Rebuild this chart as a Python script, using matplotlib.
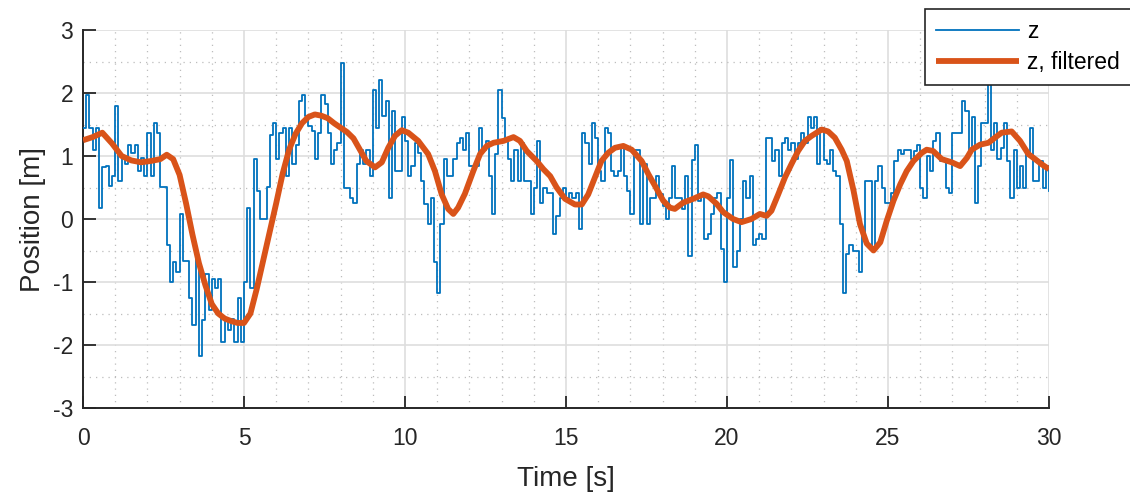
import numpy as np
import matplotlib
matplotlib.use("Agg")
import matplotlib.pyplot as plt
from matplotlib.ticker import MultipleLocator

# ---------------- data ----------------
dt = 0.1
z = [
    1.45, 1.97, 1.45, 1.1, 1.45, 0.18, 0.82, 0.84, 0.53, 0.68,
    1.79, 0.6, 1.0, 0.87, 1.18, 1.05, 1.18, 0.76, 0.97, 0.68,
    1.37, 0.68, 1.53, 1.37, 0.51, 0.51, -0.42, -1.0, -0.68, -0.84,
    0.08, -0.66, -0.66, -1.26, -1.68, -0.6, -2.18, -1.6, -0.87, -1.44,
    -0.95, -1.1, -0.95, -1.95, -1.58, -1.76, -1.58, -1.95, -1.26, -1.95,
    -1.0, 0.18, -1.1, 0.95, 0.45, 0.0, 0.0, 0.51, 1.34, 1.53,
    0.95, 1.37, 1.45, 0.68, 1.45, 0.87, 1.18, 1.87, 1.97, 1.63,
    1.47, 1.39, 0.95, 1.37, 1.97, 1.82, 1.37, 0.87, 1.1, 1.21,
    2.47, 0.5, 0.5, 0.34, 0.26, 0.87, 1.1, 0.87, 1.1, 0.68,
    2.04, 1.45, 2.21, 1.63, 1.87, 0.34, 1.71, 0.76, 0.76, 1.62,
    1.24, 0.68, 0.84, 1.21, 1.05, 0.6, 0.24, -0.08, 0.34, -0.68,
    -1.18, -0.08, 0.95, 0.68, 0.68, 0.95, 1.21, 1.28, 1.1, 1.37,
    0.84, 0.84, 0.84, 1.45, 1.1, 1.24, 0.68, 0.08, 1.03, 2.04,
    1.6, 1.24, 0.95, 0.6, 1.1, 0.6, 1.21, 0.6, 0.6, 0.08,
    0.5, 1.24, 0.26, 0.5, 0.42, 0.42, -0.24, 0.05, 0.34, 0.5,
    0.34, 0.42, 0.34, 0.42, -0.16, 1.37, 1.21, 0.87, 1.53, 1.29,
    0.76, 0.6, 1.45, 1.37, 0.76, 0.68, 0.76, 1.18, 0.68, 0.45,
    0.08, 1.1, 1.1, -0.08, 0.87, -0.08, 0.34, 0.34, 0.68, 0.39,
    0.2, 0.0, 0.34, 0.84, 0.34, 0.34, 0.16, 0.68, -0.58, 0.93,
    1.18, 0.29, 0.39, -0.32, -0.24, 0.08, 0.34, 0.42, -0.47, -1.0,
    0.34, 0.93, -0.76, -0.5, 0.0, 0.6, 0.34, 0.68, -0.42, -0.32,
    -0.24, -0.32, 1.28, 1.28, 0.92, 1.1, 0.68, 1.21, 1.28, 1.1,
    1.21, 0.95, 1.21, 1.37, 1.21, 1.62, 1.45, 1.62, 0.87, 1.45,
    0.93, 0.87, 1.1, 0.76, 0.68, -0.08, -1.18, -0.55, -0.42, -0.5,
    -0.5, -0.84, -0.24, 0.6, 0.6, -0.47, 0.6, 0.84, 0.5, 0.26,
    0.26, 0.42, 0.92, 1.1, 1.03, 1.1, 1.1, 0.95, 1.08, 1.18,
    0.5, 0.34, 1.0, 0.76, 1.24, 1.37, 0.92, 0.92, 0.5, 0.42,
    1.37, 1.37, 1.37, 1.87, 1.71, 1.1, 1.62, 0.26, 0.84, 1.53,
    1.53, 2.25, 1.1, 1.53, 0.95, 1.13, 1.53, 0.92, 0.34, 1.1,
    0.5, 0.84, 0.5, 1.03, 1.45, 0.6, 0.6, 0.92, 0.5, 0.84,
    0.45,
]
t = np.arange(len(z)) * dt

t_filt = [0.0, 0.3, 0.6, 0.9, 1.2, 1.5, 1.8, 2.1, 2.4, 2.6, 2.8, 3.0, 3.2, 3.4,
          3.6, 3.8, 4.0, 4.2, 4.4, 4.6, 4.8, 5.0, 5.2, 5.4, 5.6, 5.8, 6.0, 6.2,
          6.4, 6.6, 6.8, 7.0, 7.2, 7.4, 7.6, 7.8, 8.0, 8.2, 8.4, 8.6, 8.8, 9.07,
          9.28, 9.48, 9.69, 9.9, 10.1, 10.41, 10.72, 10.93, 11.14, 11.34, 11.5,
          11.65, 11.86, 12.12, 12.33, 12.54, 12.75, 13.06, 13.37, 13.57, 13.78,
          14.09, 14.3, 14.51, 14.71, 14.97, 15.28, 15.49, 15.69, 15.9, 16.1,
          16.31, 16.52, 16.78, 17.04, 17.35, 17.56, 17.76, 18.02, 18.23, 18.38,
          18.64, 18.95, 19.26, 19.42, 19.68, 19.88, 20.19, 20.45, 20.76, 21.02,
          21.23, 21.38, 21.59, 21.8, 22.0, 22.21, 22.42, 22.63, 22.94, 23.14,
          23.35, 23.56, 23.72, 23.93, 24.13, 24.34, 24.55, 24.76, 24.96, 25.17,
          25.38, 25.58, 25.79, 26.05, 26.2, 26.4, 26.67, 26.98, 27.24, 27.45,
          27.6, 27.86, 28.12, 28.32, 28.53, 28.84, 29.1, 29.36, 29.57, 29.77,
          30.0]
z_filt = [1.25, 1.3, 1.37, 1.2, 1.0, 0.93, 0.9, 0.92, 0.95, 1.02, 0.95, 0.7,
          0.25, -0.25, -0.7, -1.05, -1.35, -1.5, -1.58, -1.62, -1.65, -1.65,
          -1.5, -1.1, -0.65, -0.2, 0.25, 0.72, 1.1, 1.35, 1.52, 1.62, 1.66,
          1.64, 1.6, 1.52, 1.45, 1.38, 1.28, 1.1, 0.92, 0.82, 0.9, 1.13, 1.32,
          1.41, 1.37, 1.24, 1.03, 0.76, 0.39, 0.16, 0.08, 0.18, 0.4, 0.76,
          1.03, 1.16, 1.21, 1.24, 1.3, 1.24, 1.08, 0.92, 0.79, 0.68, 0.5, 0.32,
          0.23, 0.23, 0.39, 0.66, 0.92, 1.05, 1.13, 1.16, 1.1, 0.92, 0.71, 0.53,
          0.29, 0.18, 0.16, 0.26, 0.32, 0.39, 0.36, 0.24, 0.11, 0.0, -0.05,
          0.0, 0.08, 0.05, 0.13, 0.39, 0.66, 0.87, 1.08, 1.24, 1.32, 1.42,
          1.39, 1.29, 1.1, 0.92, 0.45, -0.08, -0.39, -0.5, -0.37, -0.03, 0.29,
          0.55, 0.76, 0.92, 1.05, 1.1, 1.08, 0.95, 0.9, 0.84, 0.97, 1.1, 1.18,
          1.21, 1.29, 1.37, 1.39, 1.24, 1.03, 0.95, 0.87, 0.79]

x_ticks = [0, 5, 10, 15, 20, 25, 30]
y_ticks = [-3, -2, -1, 0, 1, 2, 3]
labels = ["z", "z, filtered"]

# ---------------- style ----------------
plt.rcParams["font.family"] = ["Liberation Sans", "DejaVu Sans"]
plt.rcParams["axes.unicode_minus"] = False

BLUE = "#0072BD"
ORANGE = "#D95319"
DARK = "#262626"

fig = plt.figure(figsize=(11.30, 4.92), dpi=100)
ax = fig.add_axes([83 / 1130, 1 - 408 / 492, (1049 - 83) / 1130, (408 - 30) / 492])

ax.step(t, z, where="post", color=BLUE, lw=1.3, label=labels[0], zorder=3)
ax.plot(t_filt, z_filt, color=ORANGE, lw=4.2, label=labels[1], zorder=4,
        solid_capstyle="butt")

ax.set_xlim(0, 30)
ax.set_ylim(-3, 3)
ax.set_xticks(x_ticks)
ax.set_yticks(y_ticks)
ax.xaxis.set_minor_locator(MultipleLocator(1))
ax.yaxis.set_minor_locator(MultipleLocator(0.5))

ax.grid(True, which="major", color="#dedede", lw=1.2, ls="-", zorder=0)
ax.grid(True, which="minor", color="#bdbdbd", lw=0.9, ls=(0, (1, 4)), zorder=0)
ax.set_axisbelow(True)

for s in ["top", "right"]:
    ax.spines[s].set_visible(False)
for s in ["left", "bottom"]:
    ax.spines[s].set_color(DARK)
    ax.spines[s].set_linewidth(1.4)

ax.tick_params(which="major", direction="in", length=9, width=1.3, color=DARK,
               labelcolor=DARK, labelsize=16.5, pad=7)
ax.tick_params(axis="x", which="major", pad=14)
ax.tick_params(which="minor", length=0)

ax.set_xlabel("Time [s]", fontsize=20, color=DARK, labelpad=11)
ax.set_ylabel("Position [m]", fontsize=20, color=DARK, labelpad=5)

leg = fig.legend(loc="upper left", bbox_to_anchor=(925 / 1130, 1 - 9 / 492),
                 bbox_transform=fig.transFigure, fontsize=16.5, frameon=True,
                 fancybox=False, edgecolor=DARK, framealpha=1.0,
                 handlelength=3.6, borderpad=0.5, labelspacing=0.32,
                 handletextpad=0.35, borderaxespad=0)
leg.get_frame().set_linewidth(1.2)
for txt in leg.get_texts():
    txt.set_color("black")

fig.savefig("out.png", dpi=100)
